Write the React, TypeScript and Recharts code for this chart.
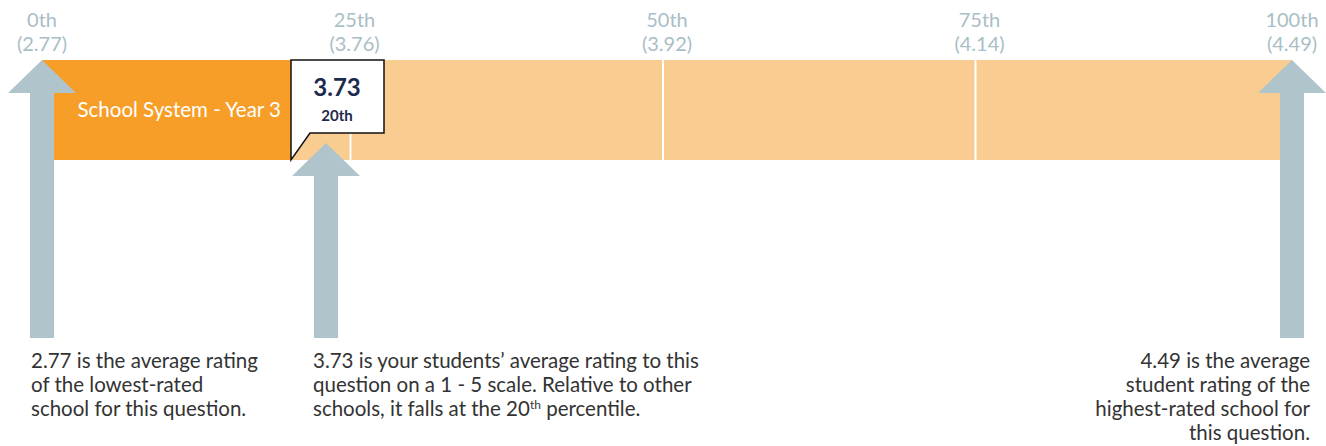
import React from "react";
import { BarChart, Bar, XAxis, YAxis, ReferenceLine, LabelList } from "recharts";

const categories = ["School System - Year 3"];
const schoolPercentile = [20];
const schoolScore = ["3.73"];
const percentileTicks = [0, 25, 50, 75, 100];
const tickLabels = ["0th", "25th", "50th", "75th", "100th"];
const tickValues = ["2.77", "3.76", "3.92", "4.14", "4.49"];
const separators = [25, 50, 75];

const lowNote = ["2.77 is the average rating", "of the lowest-rated", "school for this question."];
const scoreNote = [
  "3.73 is your students\u2019 average rating to this",
  "question on a 1 - 5 scale. Relative to other",
  "schools, it falls at the 20^th^ percentile.",
];
const highNote = ["4.49 is the average", "student rating of the", "highest-rated school for", "this question."];

const data = categories.map((name, i) => ({
  name,
  score: schoolPercentile[i],
  rest: 100 - schoolPercentile[i],
}));

const FONT = "Lato, 'Open Sans', sans-serif";
const DARK = "#F79E28";
const LIGHT = "#F9CC92";
const ARROW = "#B0C4CB";
const TICK = "#A9BEC6";
const NAVY = "#1C2A4D";
const NOTE = "#333333";

// sup marker: "20^th^" -> 20 + superscript th
const noteLine = (line: string) => {
  const parts = line.split("^");
  return parts.map((p, i) =>
    i % 2 === 1 ? (
      <tspan key={i} fontSize={12} dy={-7}>
        {p}
      </tspan>
    ) : (
      <tspan key={i} dy={i > 0 ? 7 : 0}>
        {p}
      </tspan>
    )
  );
};

const drawArrow = (
  cx: number,
  tipY: number,
  note: string[],
  anchor: "start" | "end",
  textX: number
) => {
  const base = tipY + 33;
  const bottom = 338;
  const pts = [
    [cx, tipY],
    [cx + 34, base],
    [cx + 12, base],
    [cx + 12, bottom],
    [cx - 12, bottom],
    [cx - 12, base],
    [cx - 34, base],
  ]
    .map((p) => p.join(","))
    .join(" ");
  return (
    <g>
      <polygon points={pts} fill={ARROW} />
      {note.map((line, i) => (
        <text
          key={i}
          x={textX}
          y={368 + i * 24}
          textAnchor={anchor}
          fontSize={20.5}
          fill={NOTE}
          fontFamily={FONT}
        >
          {noteLine(line)}
        </text>
      ))}
    </g>
  );
};

const PercentileTick = (props: any) => {
  const { x, payload } = props;
  const i = percentileTicks.indexOf(payload.value);
  return (
    <g>
      <text x={x} y={27} textAnchor="middle" fontSize={20} fill={TICK} fontFamily={FONT}>
        {tickLabels[i]}
      </text>
      <text x={x} y={51} textAnchor="middle" fontSize={20} fill={TICK} fontFamily={FONT}>
        ({tickValues[i]})
      </text>
    </g>
  );
};

const BarName = (props: any) => {
  const { x, y, width, height, value } = props;
  return (
    <text
      x={x + width - 11}
      y={y + height / 2 + 7}
      textAnchor="end"
      fontSize={20.5}
      fill="#ffffff"
      fontFamily={FONT}
    >
      {value}
    </text>
  );
};

export default function App() {
  return (
    <div style={{ position: "absolute", left: 0, top: 0, fontFamily: FONT }}>
      <BarChart
        width={1326}
        height={446}
        data={data}
        layout="vertical"
        barCategoryGap={0}
        margin={{ top: 0, right: 34, bottom: 286, left: 42 }}
      >
        <XAxis
          type="number"
          domain={[0, 100]}
          ticks={percentileTicks}
          interval={0}
          orientation="top"
          height={60}
          axisLine={false}
          tickLine={false}
          tick={<PercentileTick />}
        />
        <YAxis type="category" dataKey="name" hide />
        <Bar dataKey="score" stackId="a" fill={DARK} isAnimationActive={false}>
          <LabelList dataKey="name" content={<BarName />} />
        </Bar>
        <Bar dataKey="rest" stackId="a" fill={LIGHT} isAnimationActive={false} />

        {separators.map((s) => (
          <ReferenceLine
            key={s}
            x={s}
            shape={(p: any) => (
              <line x1={p.x1 - 4} x2={p.x2 - 4} y1={p.y1} y2={p.y2} stroke="#ffffff" strokeWidth={2} />
            )}
          />
        ))}

        {/* callout box with the school's score */}
        <ReferenceLine
          x={schoolPercentile[0]}
          shape={(p: any) => {
            const x0 = p.x1 - 1;
            const top = Math.min(p.y1, p.y2);
            const bot = Math.max(p.y1, p.y2);
            return (
              <g>
                <path
                  d={`M${x0},${top} L${x0 + 93},${top} L${x0 + 93},${top + 73} L${x0 + 19},${top + 73} L${x0},${bot} Z`}
                  fill="#ffffff"
                  stroke="#111111"
                  strokeWidth={1.5}
                />
                <text x={x0 + 46} y={top + 36} textAnchor="middle" fontSize={24} fontWeight={700} fill={NAVY} fontFamily={FONT}>
                  {schoolScore[0]}
                </text>
                <text x={x0 + 46} y={top + 61} textAnchor="middle" fontSize={15} fontWeight={700} fill={NAVY} fontFamily={FONT}>
                  {schoolPercentile[0]}th
                </text>
              </g>
            );
          }}
        />

        <ReferenceLine
          x={percentileTicks[0]}
          ifOverflow="visible"
          shape={(p: any) => drawArrow(p.x1, Math.min(p.y1, p.y2), lowNote, "start", p.x1 - 11)}
        />
        <ReferenceLine
          x={schoolPercentile[0]}
          shape={(p: any) => drawArrow(p.x1 + 34, Math.max(p.y1, p.y2) - 17, scoreNote, "start", p.x1 + 21)}
        />
        <ReferenceLine
          x={percentileTicks[4]}
          ifOverflow="visible"
          shape={(p: any) => drawArrow(p.x1, Math.min(p.y1, p.y2), highNote, "end", p.x1 + 18)}
        />
      </BarChart>
    </div>
  );
}
